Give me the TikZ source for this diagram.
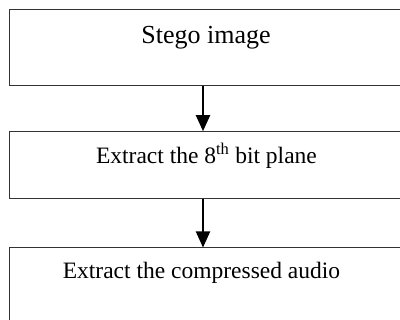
\documentclass[tikz,border=0pt]{standalone}
\usepackage{fontspec}
\setmainfont{Liberation Serif}
\usetikzlibrary{arrows.meta}
\tikzset{
  box/.style={draw=black!80, line width=1pt, rectangle, minimum width=392pt, inner sep=0pt, fill=white},
  lbl/.style={anchor=base, inner sep=0pt, font=\fontsize{23.5}{28}\selectfont},
  arr/.style={draw=black, line width=2pt, -{Triangle[width=14pt,length=16pt]}}
}
\begin{document}
\begin{tikzpicture}[x=1pt,y=-1pt]
\useasboundingbox (0,0) rectangle (400,320);
\clip (0,0) rectangle (400,320);
\node[box, minimum height=76.5pt] (b1) at (205,47.75) {};
\node[box, minimum height=67.3pt] (b2) at (205,165.35) {};
\node[box, minimum height=84pt] (b3) at (205,290) {};
\node[lbl, font=\fontsize{26}{30}\selectfont] (t1) at (206,44) {Stego image};
\node[lbl] (t2) at (206.5,164) {Extract the 8\textsuperscript{th} bit plane};
\node[lbl] (t3) at (201.5,279) {Extract the compressed audio};
\draw[arr] ([xshift=-2pt]b1.south) -- ([xshift=-2pt]b2.north);
\draw[arr] ([xshift=-2pt]b2.south) -- ([xshift=-2pt]b3.north);
\end{tikzpicture}
\end{document}
